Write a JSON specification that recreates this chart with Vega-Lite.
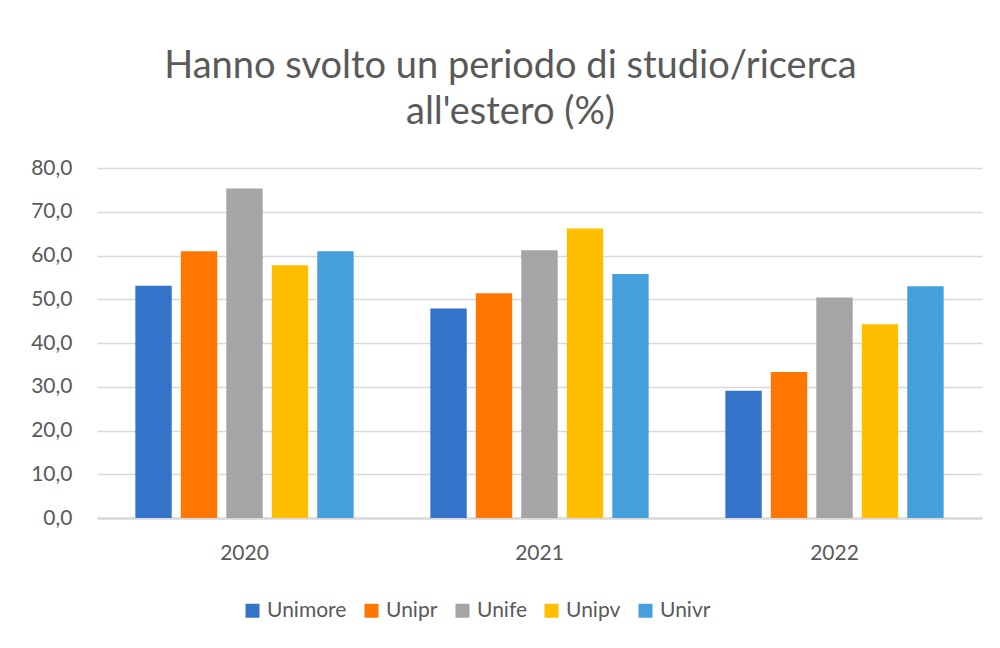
{
  "$schema": "https://vega.github.io/schema/vega-lite/v6.json",
  "autosize": {"type": "none"},
  "width": 885,
  "height": 350,
  "padding": {"left": 97, "top": 168, "right": 18, "bottom": 130},
  "background": "white",
  "title": {
    "text": ["Hanno svolto un periodo di studio/ricerca", "all'estero (%)"],
    "font": "Lato",
    "fontSize": 38,
    "fontWeight": "normal",
    "color": "#595959",
    "anchor": "middle",
    "dx": -29,
    "lineHeight": 46,
    "offset": 25
  },
  "data": {
    "values": [
      {"year": "2020", "uni": "Unimore", "value": 53.1},
      {"year": "2020", "uni": "Unipr", "value": 61.0},
      {"year": "2020", "uni": "Unife", "value": 75.3},
      {"year": "2020", "uni": "Unipv", "value": 57.8},
      {"year": "2020", "uni": "Univr", "value": 61.0},
      {"year": "2021", "uni": "Unimore", "value": 47.9},
      {"year": "2021", "uni": "Unipr", "value": 51.4},
      {"year": "2021", "uni": "Unife", "value": 61.2},
      {"year": "2021", "uni": "Unipv", "value": 66.2},
      {"year": "2021", "uni": "Univr", "value": 55.8},
      {"year": "2022", "uni": "Unimore", "value": 29.1},
      {"year": "2022", "uni": "Unipr", "value": 33.4},
      {"year": "2022", "uni": "Unife", "value": 50.4},
      {"year": "2022", "uni": "Unipv", "value": 44.3},
      {"year": "2022", "uni": "Univr", "value": 53.0}
    ]
  },
  "mark": {"type": "bar"},
  "encoding": {
    "x": {
      "field": "year",
      "type": "nominal",
      "scale": {"paddingInner": 0.26, "paddingOuter": 0.13},
      "axis": {
        "title": null,
        "labelAngle": 0,
        "ticks": false,
        "labelPadding": 24,
        "domainColor": "#d9d9d9",
        "domainWidth": 2.5
      }
    },
    "xOffset": {
      "field": "uni",
      "sort": ["Unimore", "Unipr", "Unife", "Unipv", "Univr"],
      "scale": {"paddingInner": 0.2, "paddingOuter": 0}
    },
    "y": {
      "field": "value",
      "type": "quantitative",
      "scale": {"domain": [0, 80], "nice": false},
      "axis": {
        "title": null,
        "values": [0, 10, 20, 30, 40, 50, 60, 70, 80],
        "labelExpr": "replace(format(datum.value, '.1f'), '.', ',')",
        "ticks": false,
        "domain": false,
        "labelPadding": 25,
        "gridColor": "#d9d9d9",
        "gridWidth": 1.5
      }
    },
    "color": {
      "field": "uni",
      "type": "nominal",
      "scale": {
        "domain": ["Unimore", "Unipr", "Unife", "Unipv", "Univr"],
        "range": ["#3373C9", "#FF7600", "#A5A5A5", "#FFBE00", "#449FDA"]
      },
      "legend": {
        "title": null,
        "orient": "none",
        "direction": "horizontal",
        "legendX": 145,
        "legendY": 432,
        "symbolType": "square",
        "symbolSize": 196,
        "symbolStrokeWidth": 0,
        "labelFontSize": 21,
        "labelFont": "Lato",
        "labelColor": "#595959",
        "labelOffset": 4,
        "columnPadding": 14
      }
    }
  },
  "config": {
    "view": {"stroke": null},
    "axis": {
      "labelFont": "Lato",
      "labelFontSize": 21,
      "labelColor": "#595959"
    }
  }
}
